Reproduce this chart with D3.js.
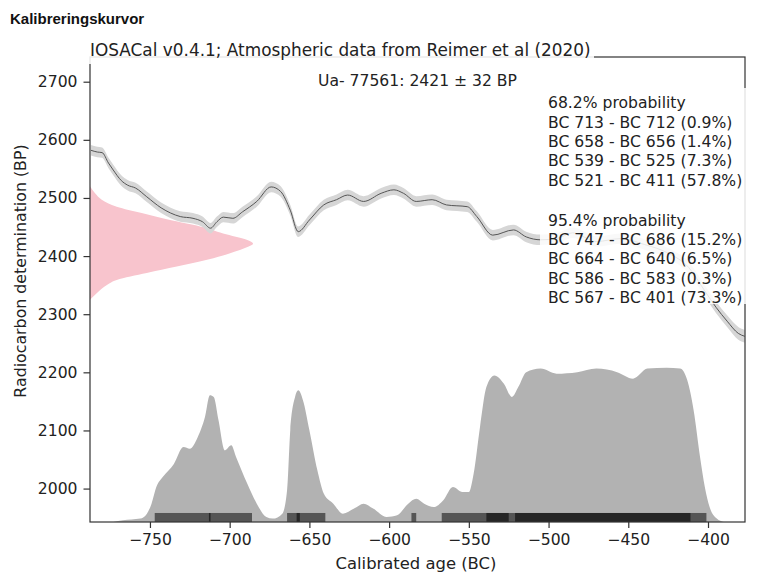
<!DOCTYPE html>
<html lang="sv">
<head>
<meta charset="UTF-8">
<script src="https://cdn.jsdelivr.net/npm/d3@7"></script>
<title>Kalibreringskurvor</title>
<style>
    body { margin: 0; background: #fff; }
    svg { display: block; }
    .tick text { font-family: "DejaVu Sans", sans-serif; font-size: 15.6px; fill: #222; }
    .tick line { stroke: #333; stroke-width: 1.2px; }
</style>
</head>
<body>
<div id="chart"></div>
<script>
    // calibration curve (IntCal20 excerpt)
    const curveYears = [-787, -783, -780, -776, -773, -768, -764, -759, -752, -743, -737, -731, -723, -717, -712, -708, -704, -698, -692, -683, -674, -668, -662, -657, -650, -641, -633, -626, -616, -605, -597, -591, -583, -573, -564, -551, -545, -535, -522, -514, -505, -495, -485, -470, -455, -440, -425, -412, -402, -395, -388, -381, -377];
    const curveBP = [2582, 2579, 2578, 2560, 2548, 2530, 2522, 2517, 2502, 2483, 2474, 2468, 2465, 2459, 2448, 2459, 2467, 2465, 2476, 2494, 2519, 2511, 2479, 2442, 2462, 2488, 2497, 2505, 2494, 2508, 2514, 2508, 2494, 2497, 2488, 2485, 2468, 2436, 2445, 2433, 2428, 2430, 2440, 2425, 2430, 2420, 2405, 2380, 2340, 2312, 2288, 2267, 2262];
    const curveErr = [9, 9, 9, 9, 9, 9, 9, 9, 9, 9, 9, 9, 9, 9, 9, 9, 9, 9, 9, 9, 9, 9, 9, 9, 9, 9, 9, 9, 9, 9, 9, 9, 9, 9, 9, 9, 9, 9, 9, 9, 9, 9, 9, 9, 9, 9, 9, 10, 10, 10, 10, 11, 11];

    // radiocarbon date distribution (pink), relative density by BP
    const dateBP = [2520, 2508, 2497, 2485, 2474, 2462, 2451, 2439, 2428, 2421, 2416, 2405, 2394, 2382, 2371, 2359, 2348, 2336, 2325];
    const dateDens = [0, 0.031, 0.072, 0.164, 0.317, 0.491, 0.675, 0.816, 0.961, 1.0, 0.969, 0.859, 0.724, 0.532, 0.348, 0.164, 0.092, 0.041, 0];

    // calibrated age distribution (grey), relative density by year
    const calYears = [-773, -767, -756, -752, -749, -746, -742, -735, -729, -725, -720, -715.5, -712.4, -710, -707, -703, -699, -696, -689, -683, -677, -673, -667, -664, -662, -659, -657, -654, -650, -645, -641, -635, -629, -622, -616, -610, -601.5, -595, -588, -583, -578, -572, -566, -560, -554, -550, -547, -543, -539, -534, -528, -523, -519, -514, -505, -495, -482, -470, -457, -447, -438, -426, -417.5, -413, -409, -405, -402, -399, -394.5, -390];
    const calDens = [0, 0.011, 0.022, 0.052, 0.119, 0.227, 0.291, 0.376, 0.486, 0.475, 0.551, 0.68, 0.821, 0.81, 0.659, 0.464, 0.497, 0.421, 0.249, 0.119, 0.032, 0.022, 0.054, 0.205, 0.594, 0.81, 0.853, 0.788, 0.594, 0.335, 0.184, 0.119, 0.054, 0.087, 0.119, 0.087, 0.032, 0.043, 0.119, 0.15, 0.119, 0.097, 0.141, 0.227, 0.194, 0.194, 0.313, 0.615, 0.874, 0.95, 0.896, 0.81, 0.874, 0.971, 0.994, 0.961, 0.971, 0.994, 0.971, 0.929, 0.994, 1.0, 0.994, 0.918, 0.723, 0.421, 0.227, 0.097, 0.022, 0];

    // probability ranges
    const ranges68 = [[-713, -712], [-658, -656], [-539, -525], [-521, -411]];
    const pct68 = ["0.9%", "1.4%", "7.3%", "57.8%"];
    const ranges95 = [[-747, -686], [-664, -640], [-586, -583], [-567, -401]];
    const pct95 = ["15.2%", "6.5%", "0.3%", "73.3%"];

    const xTicks = [-750, -700, -650, -600, -550, -500, -450, -400];
    const yTicks = [2000, 2100, 2200, 2300, 2400, 2500, 2600, 2700];

    const width = 758, height = 573;
    const m = { left: 90, right: 745, top: 57, bottom: 522 };
    const font = '"DejaVu Sans", sans-serif';

    const svg = d3.select("#chart").append("svg")
        .attr("width", width)
        .attr("height", height);

    const x = d3.scaleLinear().domain([-787.6, -376.8]).range([m.left, m.right]);
    const y = d3.scaleLinear().domain([1942.5, 2742.5]).range([m.bottom, m.top]);
    // pdf scales: grey pdf height, pink width (in data units)
    const calTop = 2208;
    const dateSpan = 102.3;

    const curve = curveYears.map((d, i) => ({ yr: d, bp: curveBP[i], e: curveErr[i] }));
    const cal = calYears.map((d, i) => ({ yr: d, p: calDens[i] }));
    const date = dateBP.map((d, i) => ({ bp: d, p: dateDens[i] }));

    const plot = svg.append("g");

    // calibrated distribution
    plot.append("path")
        .datum(cal)
        .attr("fill", "#b2b2b2")
        .attr("d", d3.area()
            .curve(d3.curveMonotoneX)
            .x(d => x(d.yr))
            .y0(y(1942.5))
            .y1(d => y(1942.5 + d.p * (calTop - 1942.5))));

    // range bars
    const barBP = 1958;
    plot.selectAll(".r95").data(ranges95).enter().append("rect")
        .attr("x", d => x(d[0]))
        .attr("width", d => x(d[1]) - x(d[0]))
        .attr("y", y(barBP))
        .attr("height", y(1942.5) - y(barBP))
        .attr("fill", "#555");
    plot.selectAll(".r68").data(ranges68).enter().append("rect")
        .attr("x", d => x(d[0]))
        .attr("width", d => Math.max(x(d[1]) - x(d[0]), 1.5))
        .attr("y", y(barBP))
        .attr("height", y(1942.5) - y(barBP))
        .attr("fill", "#262626");

    // radiocarbon date distribution
    plot.append("path")
        .datum(date)
        .attr("fill", "#f8c4cd")
        .attr("d", d3.area()
            .curve(d3.curveMonotoneY)
            .y(d => y(d.bp))
            .x0(x(-787.6))
            .x1(d => x(-787.6 + d.p * dateSpan)));

    // calibration curve band and line
    plot.append("path")
        .datum(curve)
        .attr("fill", "#d6d6d6")
        .attr("d", d3.area()
            .curve(d3.curveMonotoneX)
            .x(d => x(d.yr))
            .y0(d => y(d.bp - d.e))
            .y1(d => y(d.bp + d.e)));
    plot.append("path")
        .datum(curve)
        .attr("fill", "none")
        .attr("stroke", "#555")
        .attr("stroke-width", 1)
        .attr("d", d3.line()
            .curve(d3.curveMonotoneX)
            .x(d => x(d.yr))
            .y(d => y(d.bp)));

    // axes
    svg.append("g")
        .attr("transform", `translate(0,${m.bottom})`)
        .call(d3.axisBottom(x).tickValues(xTicks).tickSize(6).tickPadding(6))
        .call(g => g.select(".domain").remove());
    svg.append("g")
        .attr("transform", `translate(${m.left},0)`)
        .call(d3.axisLeft(y).tickValues(yTicks).tickFormat(d3.format("d")).tickSize(6.5).tickPadding(6))
        .call(g => g.select(".domain").remove());

    svg.append("rect")
        .attr("x", m.left).attr("y", m.top)
        .attr("width", m.right - m.left).attr("height", m.bottom - m.top)
        .attr("fill", "none").attr("stroke", "#333").attr("stroke-width", 1.2);

    // legend with semi transparent background
    const lx = 548, ly = 103, lh = 19.3;
    svg.append("rect")
        .attr("x", 540).attr("y", 88)
        .attr("width", 212).attr("height", 216)
        .attr("fill", "#fff").attr("opacity", 0.85);
    const lines = ["68.2% probability"]
        .concat(ranges68.map((r, i) => `BC ${-r[0]} - BC ${-r[1]} (${pct68[i]})`))
        .concat([""])
        .concat(["95.4% probability"])
        .concat(ranges95.map((r, i) => `BC ${-r[0]} - BC ${-r[1]} (${pct95[i]})`));
    svg.append("g").selectAll("text").data(lines).enter().append("text")
        .attr("x", lx)
        .attr("y", (d, i) => ly + i * lh + (i > 5 ? 1.5 : 0))
        .attr("dy", "0.35em")
        .attr("font-family", font)
        .attr("font-size", "15.6px")
        .attr("fill", "#222")
        .text(d => d);

    // title box over the top spine
    svg.append("rect")
        .attr("x", 86).attr("y", 36)
        .attr("width", 508).attr("height", 28)
        .attr("fill", "#fff").attr("opacity", 0.88);
    svg.append("text")
        .attr("x", 90).attr("y", 50)
        .attr("dy", "0.35em")
        .attr("font-family", font).attr("font-size", "16.9px").attr("fill", "#222")
        .text("IOSACal v0.4.1; Atmospheric data from Reimer et al (2020)");

    svg.append("text")
        .attr("x", (m.left + m.right) / 2).attr("y", 81)
        .attr("dy", "0.35em")
        .attr("text-anchor", "middle")
        .attr("font-family", font).attr("font-size", "15.6px").attr("fill", "#222")
        .text("Ua- 77561: 2421 \u00b1 32 BP");

    svg.append("text")
        .attr("x", 416).attr("y", 563)
        .attr("dy", "0.35em")
        .attr("text-anchor", "middle")
        .attr("font-family", font).attr("font-size", "16.4px").attr("fill", "#222")
        .text("Calibrated age (BC)");

    svg.append("text")
        .attr("transform", "translate(20,271) rotate(-90)")
        .attr("dy", "0.35em")
        .attr("text-anchor", "middle")
        .attr("font-family", font).attr("font-size", "15.8px").attr("fill", "#222")
        .text("Radiocarbon determination (BP)");

    svg.append("text")
        .attr("x", 10).attr("y", 19)
        .attr("dy", "0.35em")
        .attr("font-family", "'Liberation Sans', Arial, sans-serif")
        .attr("font-weight", "bold")
        .attr("font-size", "15px")
        .attr("fill", "#111")
        .text("Kalibreringskurvor");
</script>
</body>
</html>
